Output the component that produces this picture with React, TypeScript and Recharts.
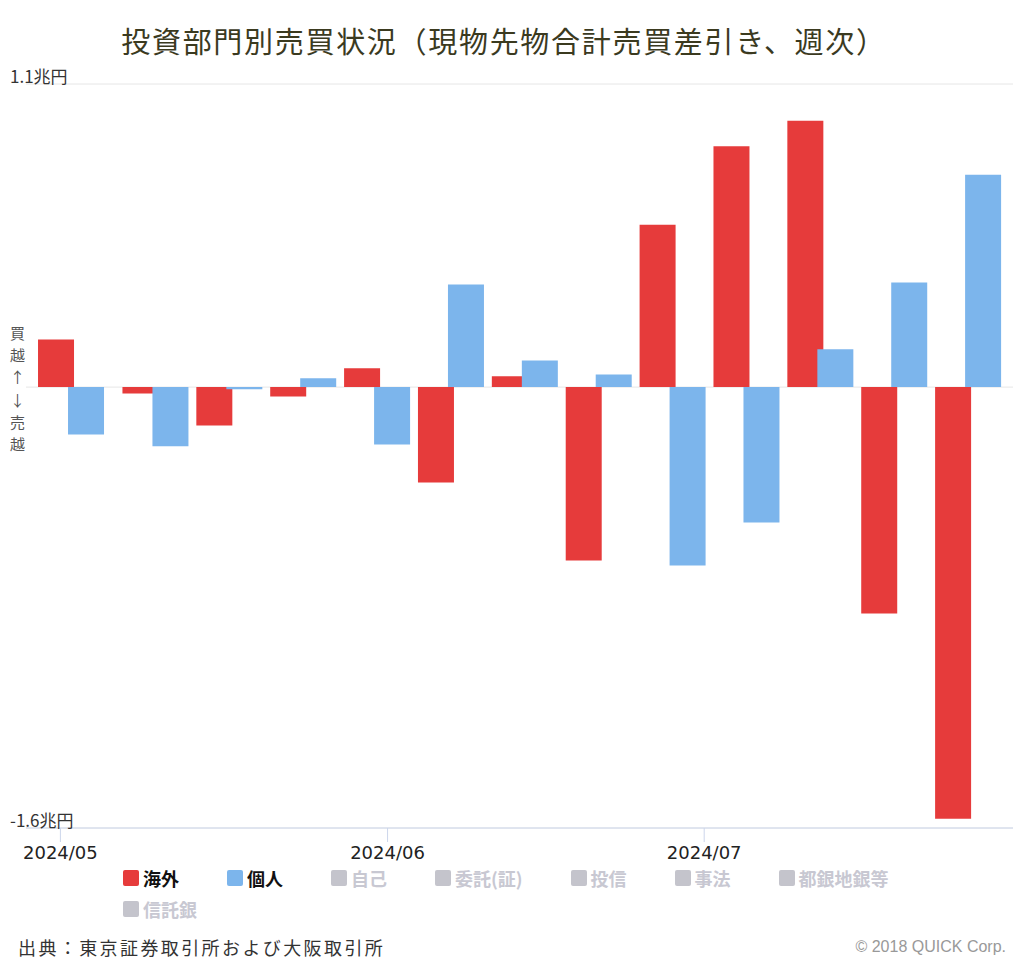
import { BarChart, Bar, XAxis, YAxis, CartesianGrid } from "recharts";

// week-ending dates (first week ends Thu 5/2 because of Golden Week)
const weekEnds = [
  "2024-05-02", "2024-05-10", "2024-05-17", "2024-05-24", "2024-05-31",
  "2024-06-07", "2024-06-14", "2024-06-21", "2024-06-28",
  "2024-07-05", "2024-07-12", "2024-07-19", "2024-07-26",
];
// 兆円
const foreign = [0.173, -0.023, -0.139, -0.034, 0.068, -0.346, 0.039, -0.629, 0.589, 0.874, 0.967, -0.822, -1.566];
const individual = [-0.172, -0.215, -0.008, 0.032, -0.208, 0.372, 0.097, 0.046, -0.647, -0.491, 0.137, 0.38, 0.771];

const monthTicks = ["2024-05-01", "2024-06-01", "2024-07-01"];
const monthLabels = ["2024/05", "2024/06", "2024/07"];

const yTicks = [-1.6, 0, 1.1];
const yLabels = ["-1.6兆円", "", "1.1兆円"];

const legendItems = [
  { name: "海外", color: "#e63b3b", active: true },
  { name: "個人", color: "#7cb5ec", active: true },
  { name: "自己", active: false },
  { name: "委託(証)", active: false },
  { name: "投信", active: false },
  { name: "事法", active: false },
  { name: "都銀地銀等", active: false },
  { name: "信託銀", active: false },
];

const base = Date.parse("2024-05-01");
const dayOf = (s: string) => (Date.parse(s) - base) / 86400000;

const data = weekEnds.map((w, i) => ({
  d: dayOf(w),
  foreign: foreign[i],
  individual: individual[i],
}));

const CJK = '"Noto Sans CJK JP", "Noto Sans", sans-serif';

const YTick = (props: any) => {
  const { y, payload } = props;
  const idx = yTicks.indexOf(payload.value);
  const label = idx >= 0 ? yLabels[idx] : "";
  if (!label) return null;
  return (
    <text x={10} y={y - 1} fontSize={17} fill="#333" fontFamily={CJK}>
      {label}
    </text>
  );
};

const Legend2 = () => (
  <div
    style={{
      position: "absolute",
      left: 123,
      top: 867,
      width: 810,
      display: "flex",
      flexWrap: "wrap",
      columnGap: 48,
      rowGap: 9,
      fontFamily: CJK,
      fontWeight: 700,
      fontSize: 18,
      lineHeight: "22px",
    }}
  >
    {legendItems.map((it) => (
      <div key={it.name} style={{ display: "flex", alignItems: "center" }}>
        <span
          style={{
            width: 16,
            height: 16,
            borderRadius: 2,
            marginRight: 4,
            background: it.active ? it.color : "#c4c4cc",
          }}
        />
        <span style={{ color: it.active ? "#111" : "#c8c8d2" }}>{it.name}</span>
      </div>
    ))}
  </div>
);

export default function App() {
  return (
    <div style={{ position: "absolute", left: 0, top: 0, width: 1024, height: 964, background: "#fff" }}>
      <div
        style={{
          position: "absolute",
          left: 0,
          top: 25,
          width: 1008,
          textAlign: "center",
          fontFamily: CJK,
          fontSize: 29,
          letterSpacing: 1.7,
          lineHeight: "30px",
          color: "#3b3a1f",
        }}
      >
        投資部門別売買状況（現物先物合計売買差引き、週次）
      </div>

      <BarChart
        width={1024}
        height={964}
        data={data}
        margin={{ top: 84, right: 11, left: 10, bottom: 106 }}
        barGap={-6}
      >
        <CartesianGrid horizontal vertical={false} stroke="#e6e6e6" />
        <XAxis
          dataKey="d"
          type="number"
          domain={[-3.26, 90.26]}
          allowDataOverflow
          ticks={monthTicks.map(dayOf)}
          interval={0}
          tickFormatter={(v: number) => monthLabels[monthTicks.map(dayOf).indexOf(v)] ?? ""}
          height={30}
          stroke="#ccd6eb"
          tickSize={14}
          tickMargin={4}
          tick={{ fontSize: 18, fill: "#222", fontFamily: '"DejaVu Sans", sans-serif' }}
        />
        <YAxis
          domain={[-1.6, 1.1]}
          ticks={yTicks}
          interval={0}
          width={16}
          axisLine={false}
          tickLine={false}
          tick={<YTick />}
        />
        <Bar dataKey="foreign" fill="#e63b3b" barSize={36} isAnimationActive={false} />
        <Bar dataKey="individual" fill="#7cb5ec" barSize={36} isAnimationActive={false} />
      </BarChart>

      <div
        style={{
          position: "absolute",
          left: 9,
          top: 322,
          width: 17,
          fontFamily: CJK,
          fontSize: 15,
          lineHeight: "22.2px",
          color: "#555",
          textAlign: "center",
        }}
      >
        {"買越↑↓売越".split("").map((c, i) => (
          <div key={i}>{c}</div>
        ))}
      </div>

      <Legend2 />

      <div
        style={{
          position: "absolute",
          left: 18,
          top: 936,
          fontFamily: CJK,
          fontSize: 18,
          letterSpacing: 2.4,
          lineHeight: "22px",
          color: "#333",
        }}
      >
        出典：東京証券取引所および大阪取引所
      </div>
      <div
        style={{
          position: "absolute",
          right: 18,
          top: 938,
          fontFamily: '"Liberation Sans", sans-serif',
          fontSize: 16,
          lineHeight: "18px",
          color: "#999",
        }}
      >
        © 2018 QUICK Corp.
      </div>
    </div>
  );
}
